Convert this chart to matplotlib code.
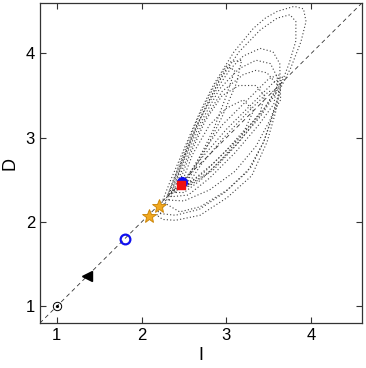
import matplotlib
matplotlib.use("Agg")
import matplotlib.pyplot as plt

plt.rcParams['font.family'] = ['Liberation Sans', 'DejaVu Sans']

# markers on the diagonal
ref_pt = (1.0, 1.0)
tri_pt = (1.36, 1.36)
ring_pt = (1.81, 1.80)
star_x = [2.09, 2.21]
star_y = [2.075, 2.185]
blue_pt = (2.48, 2.47)
red_pt = (2.46, 2.445)

# dotted loops (I, D)
loop_a_x = [2.18, 2.34, 2.54, 2.69, 2.85, 3.09, 3.32, 3.46, 3.60, 3.80, 3.91, 3.94, 3.88,
            3.76, 3.64, 3.58, 3.48, 3.30, 3.01, 2.69, 2.40, 2.25, 2.18]
loop_a_y = [2.08, 2.49, 2.96, 3.31, 3.63, 4.02, 4.30, 4.42, 4.50, 4.56, 4.53, 4.38, 4.14,
            3.83, 3.59, 3.30, 2.95, 2.55, 2.29, 2.08, 2.02, 2.03, 2.08]
loop_i_x = [2.22, 2.38, 2.58, 2.74, 2.92, 3.15, 3.40, 3.60, 3.75, 3.82, 3.82, 3.74, 3.64,
            3.56, 3.44, 3.25, 2.98, 2.68, 2.40, 2.22]
loop_i_y = [2.10, 2.50, 2.98, 3.33, 3.68, 4.02, 4.28, 4.42, 4.46, 4.38, 4.15, 3.88, 3.62,
            3.30, 2.95, 2.60, 2.35, 2.15, 2.08, 2.10]
loop_b_x = [2.28, 2.45, 2.65, 2.90, 3.05, 3.20, 3.40, 3.55, 3.63, 3.64, 3.56, 3.44, 3.29,
            3.01, 2.69, 2.45, 2.28]
loop_b_y = [2.22, 2.65, 3.15, 3.60, 3.82, 3.97, 4.06, 4.02, 3.88, 3.45, 3.31, 2.95, 2.65,
            2.38, 2.18, 2.12, 2.22]
loop_j_x = [2.32, 2.48, 2.68, 2.92, 3.15, 3.35, 3.52, 3.60, 3.62, 3.52, 3.35, 3.10, 2.80,
            2.50, 2.32]
loop_j_y = [2.26, 2.68, 3.15, 3.58, 3.82, 3.92, 3.88, 3.72, 3.50, 3.22, 2.90, 2.60, 2.38,
            2.25, 2.26]
loop_c_x = [2.35, 2.52, 2.72, 2.95, 3.20, 3.35, 3.48, 3.60, 3.56, 3.38, 3.10, 2.80, 2.55,
            2.35]
loop_c_y = [2.30, 2.72, 3.18, 3.55, 3.75, 3.80, 3.77, 3.63, 3.40, 3.15, 2.82, 2.52, 2.32,
            2.30]
loop_d_x = [2.40, 2.55, 2.75, 2.95, 3.15, 3.35, 3.45, 3.40, 3.20, 2.95, 2.70, 2.50, 2.40]
loop_d_y = [2.35, 2.75, 3.20, 3.50, 3.62, 3.62, 3.50, 3.30, 3.05, 2.75, 2.50, 2.35, 2.35]
loop_e_x = [2.45, 2.60, 2.80, 3.00, 3.20, 3.32, 3.22, 3.00, 2.75, 2.55, 2.45]
loop_e_y = [2.40, 2.80, 3.15, 3.35, 3.45, 3.32, 3.10, 2.85, 2.60, 2.45, 2.40]
loop_f_x = [2.50, 2.80, 3.10, 3.40, 3.60, 3.66, 3.55, 3.30, 3.00, 2.70, 2.50, 2.50]
loop_f_y = [2.40, 2.60, 2.90, 3.25, 3.55, 3.72, 3.65, 3.40, 3.10, 2.75, 2.50, 2.40]
loop_g_x = [2.30, 2.45, 2.65, 2.85, 3.00, 3.10, 3.00, 2.85, 2.65, 2.45, 2.30]
loop_g_y = [2.30, 2.70, 3.20, 3.60, 3.85, 3.80, 3.50, 3.10, 2.70, 2.40, 2.30]
loop_h_x = [2.55, 2.85, 3.15, 3.45, 3.58, 3.50, 3.25, 2.95, 2.70, 2.55]
loop_h_y = [2.45, 2.70, 3.00, 3.35, 3.55, 3.55, 3.30, 2.98, 2.68, 2.45]
loop_k_x = [2.35, 2.50, 2.70, 2.90, 3.05, 3.18, 3.12, 2.95, 2.75, 2.55, 2.35]
loop_k_y = [2.35, 2.75, 3.25, 3.65, 3.90, 3.92, 3.65, 3.25, 2.85, 2.50, 2.35]
loop_l_x = [2.55, 2.85, 3.15, 3.42, 3.60, 3.62, 3.50, 3.25, 2.95, 2.70, 2.55, 2.55]
loop_l_y = [2.42, 2.62, 2.95, 3.30, 3.60, 3.75, 3.70, 3.45, 3.15, 2.80, 2.55, 2.42]
loops = [(loop_a_x, loop_a_y), (loop_i_x, loop_i_y), (loop_b_x, loop_b_y),
         (loop_j_x, loop_j_y), (loop_c_x, loop_c_y), (loop_d_x, loop_d_y),
         (loop_e_x, loop_e_y), (loop_f_x, loop_f_y), (loop_g_x, loop_g_y),
         (loop_h_x, loop_h_y), (loop_k_x, loop_k_y), (loop_l_x, loop_l_y)]

fig = plt.figure(figsize=(3.66, 3.68), dpi=100)
ax = fig.add_axes([0.109, 0.122, 0.880, 0.870])

for lx, ly in loops:
    ax.plot(lx, ly, ls=(0, (1, 2)), lw=0.8, color='0.25')

ax.plot([0.8, 4.6], [0.8, 4.6], ls=(0, (5, 4)), color='0.2', lw=0.6)

ax.plot(*ref_pt, 'o', ms=6, mfc='none', mec='k', mew=0.7)
ax.plot(*ref_pt, '.', ms=2.5, color='k')
ax.plot(*tri_pt, '<', ms=7, color='k')
ax.plot(*ring_pt, 'o', ms=7, mfc='none', mec='#1010ee', mew=1.6)
ax.plot(star_x, star_y, '*', ms=10, color='#f0a820', mec='#c88000', mew=0.6, ls='none')
ax.plot(*blue_pt, 'o', ms=7, mfc='#1010ee', mec='#1010ee')
ax.plot(*red_pt, 's', ms=5.5, mfc='#ee1010', mec='#ee1010')

ax.set_xlim(0.8, 4.6)
ax.set_ylim(0.8, 4.6)
ax.set_xticks([1, 2, 3, 4])
ax.set_yticks([1, 2, 3, 4])
ax.tick_params(direction='in', top=True, right=True, length=4, labelsize=12,
               color='0.2')
for s in ax.spines.values():
    s.set_linewidth(0.9)
    s.set_color('0.2')
ax.set_xlabel('I', fontsize=13, labelpad=3)
ax.set_ylabel('D', fontsize=13, labelpad=5)

fig.savefig('out.png', dpi=100)
